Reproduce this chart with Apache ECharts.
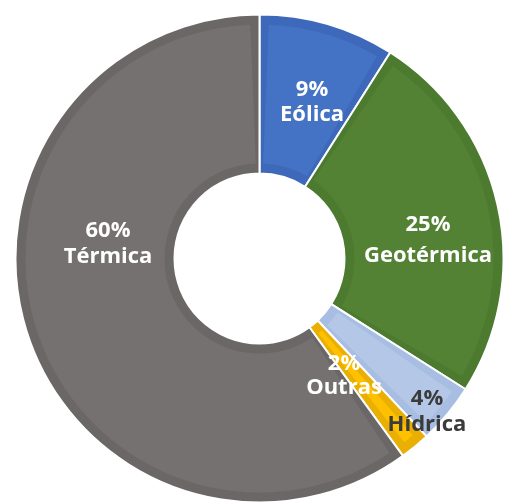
<!DOCTYPE html>
<html>
<head>
<meta charset="utf-8">
<script src="https://cdn.jsdelivr.net/npm/echarts@6/dist/echarts.min.js"></script>
<style>
  html, body { margin: 0; padding: 0; background: #ffffff; }
  #chart { width: 507px; height: 504px; }
</style>
</head>
<body>
<div id="chart"></div>
<script>
// Electricity generation mix by source (%)
const categories = ['Eólica', 'Geotérmica', 'Hídrica', 'Outras', 'Térmica'];
const shares = [9, 25, 4, 2, 60];

// Styling: face fill, darker rim, label colour
const faceColors = ['#4472C4', '#548235', '#B4C7E7', '#FFC000', '#767171'];
const rimColors = ['#3E69BA', '#4C7A2F', '#A7BDE1', '#E9B003', '#6B6767'];
const labelColors = ['#ffffff', '#ffffff', '#3b3b3b', '#ffffff', '#ffffff'];
// Label anchor points (px) and line spacing
const labelAnchors = [[312, 102], [428, 240], [427, 412], [344, 376], [108, 244]];
const labelLineHeights = [25, 31, 26, 24, 26];

const CENTER = [259.5, 258.5];

const rimData = categories.map((name, i) => ({
  name, value: shares[i],
  itemStyle: { color: rimColors[i] }
}));

const faceData = categories.map((name, i) => ({
  name, value: shares[i],
  itemStyle: { color: faceColors[i] },
  label: { color: labelColors[i], lineHeight: labelLineHeights[i] }
}));

const chart = echarts.init(document.getElementById('chart'), null, { renderer: 'canvas' });
chart.setOption({
  animation: false,
  backgroundColor: '#ffffff',
  series: [
    {
      // darker rim ring underneath, with thin white seams between slices
      type: 'pie',
      center: CENTER,
      radius: [85, 244],
      startAngle: 90,
      clockwise: true,
      silent: true,
      label: { show: false },
      labelLine: { show: false },
      itemStyle: { borderColor: '#ffffff', borderWidth: 2 },
      data: rimData
    },
    {
      // lighter face of each slice, inset from the rim
      type: 'pie',
      center: CENTER,
      radius: [95, 234],
      startAngle: 90,
      clockwise: true,
      padAngle: 4.5,
      silent: true,
      labelLine: { show: false },
      label: {
        show: true,
        position: 'inside',
        formatter: p => p.value + '%\n' + p.name,
        fontFamily: 'Open Sans',
        fontWeight: 'bold',
        fontSize: 22,
        align: 'center',
        verticalAlign: 'middle'
      },
      labelLayout: params => ({
        x: labelAnchors[params.dataIndex][0],
        y: labelAnchors[params.dataIndex][1],
        align: 'center',
        verticalAlign: 'middle'
      }),
      data: faceData
    }
  ]
});
</script>
</body>
</html>
